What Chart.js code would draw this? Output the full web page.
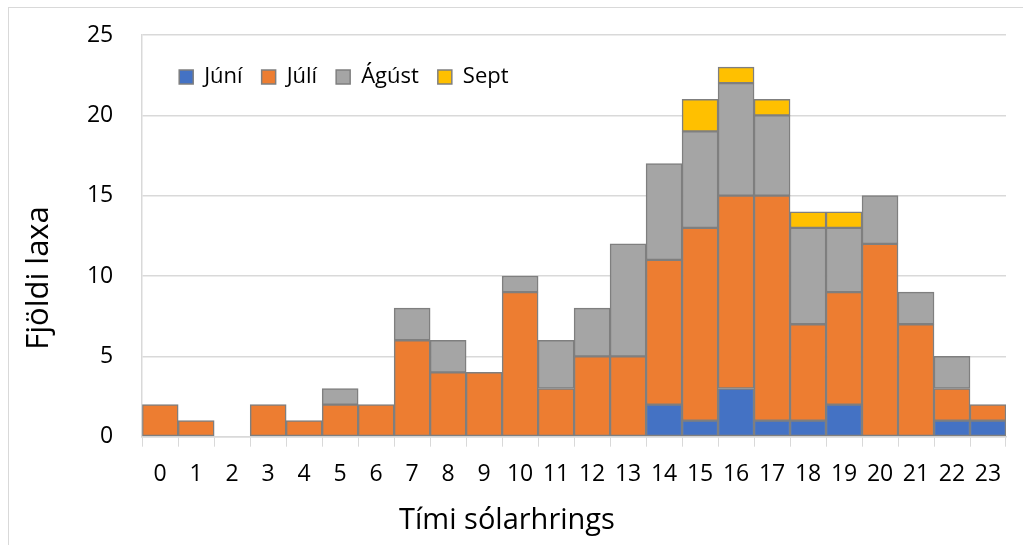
<!DOCTYPE html>
<html>
<head>
<meta charset="utf-8">
<script src="https://cdn.jsdelivr.net/npm/chart.js@4.4.1/dist/chart.umd.min.js"></script>
<style>
    html, body { margin: 0; padding: 0; background: #fff; }
    #wrap { width: 1023px; height: 545px; position: relative; }
</style>
</head>
<body>
<div id="wrap"><canvas id="chart" width="1023" height="545"></canvas></div>
<script>
// --- DATA ---
const hours = ['0', '1', '2', '3', '4', '5', '6', '7', '8', '9', '10', '11',
    '12', '13', '14', '15', '16', '17', '18', '19', '20', '21', '22', '23'];
const juni  = [0, 0, 0, 0, 0, 0, 0, 0, 0, 0, 0, 0, 0, 0, 2, 1, 3, 1, 1, 2, 0, 0, 1, 1];
const juli  = [2, 1, 0, 2, 1, 2, 2, 6, 4, 4, 9, 3, 5, 5, 9, 12, 12, 14, 6, 7, 12, 7, 2, 1];
const agust = [0, 0, 0, 0, 0, 1, 0, 2, 2, 0, 1, 3, 3, 7, 6, 6, 7, 5, 6, 4, 3, 2, 2, 0];
const sept  = [0, 0, 0, 0, 0, 0, 0, 0, 0, 0, 0, 0, 0, 0, 0, 2, 1, 1, 1, 1, 0, 0, 0, 0];
const yTicks = [0, 5, 10, 15, 20, 25];

const FONT = '"Open Sans", Lato, sans-serif';
const GRID = '#D9D9D9';
const EDGE = '#7F7F7F';

const series = [
    { label: 'Júní', data: juni, color: '#4472C4' },
    { label: 'Júlí', data: juli, color: '#ED7D31' },
    { label: 'Ágúst', data: agust, color: '#A5A5A5' },
    { label: 'Sept', data: sept, color: '#FFC000' }
];

// outer frame of the chart object
const framePlugin = {
    id: 'frame',
    beforeDraw: (chart) => {
        const ctx = chart.ctx;
        ctx.save();
        ctx.strokeStyle = GRID;
        ctx.lineWidth = 1;
        ctx.strokeRect(8.5, 7.5, 2000, 2000);
        ctx.restore();
    }
};

// legend sits inside the plot area as one row (one item per column)
const legendInside = {
    id: 'legendInside',
    afterLayout: (chart) => {
        const lg = chart.legend;
        if (!lg) return;
        const ca = chart.chartArea;
        lg.update(ca.right - ca.left, 50, { left: 0, top: 0, right: 0, bottom: 0 });
        lg.left = ca.left + 18;
        lg.top = ca.top + 12;
        lg.right = lg.left + lg.width;
        lg.bottom = lg.top + lg.height;
    }
};

new Chart(document.getElementById('chart'), {
    type: 'bar',
    data: {
        labels: hours,
        datasets: series.map(s => ({
            label: s.label,
            data: s.data,
            backgroundColor: s.color,
            borderColor: EDGE,
            borderWidth: 1.5,
            borderSkipped: false,
            barPercentage: 1,
            categoryPercentage: 1
        }))
    },
    options: {
        responsive: false,
        animation: false,
        layout: { padding: { top: 11, bottom: 0, left: 8, right: 17 } },
        plugins: {
            legend: {
                position: 'chartArea',
                align: 'start',
                labels: {
                    boxWidth: 14,
                    boxHeight: 14,
                    padding: 19,
                    color: '#000',
                    font: { family: FONT, size: 22 }
                }
            },
            title: {
                display: true,
                position: 'left',
                text: 'Fjöldi laxa',
                color: '#000',
                font: { family: FONT, size: 31, weight: 'normal' },
                padding: { top: 13, bottom: 0 }
            },
            subtitle: {
                display: true,
                position: 'bottom',
                text: 'Tími sólarhrings',
                color: '#000',
                font: { family: FONT, size: 29, weight: 'normal' },
                padding: { top: 0, bottom: 7 }
            },
            tooltip: { enabled: false }
        },
        scales: {
            x: {
                stacked: true,
                offset: true,
                grid: {
                    offset: true,
                    drawOnChartArea: false,
                    drawTicks: true,
                    tickLength: 10,
                    color: GRID
                },
                border: { color: GRID, width: 1.5 },
                ticks: {
                    color: '#000',
                    padding: 14,
                    maxRotation: 0,
                    autoSkip: false,
                    font: { family: FONT, size: 23 }
                },
                afterFit: (s) => { s.height = 66.5; }
            },
            y: {
                stacked: true,
                min: 0,
                max: 25,
                afterBuildTicks: (s) => { s.ticks = yTicks.map(v => ({ value: v })); },
                grid: { color: GRID, lineWidth: 1.5, drawTicks: false },
                border: { color: GRID, width: 1.5 },
                ticks: {
                    color: '#000',
                    padding: 29,
                    font: { family: FONT, size: 23 }
                },
                afterFit: (s) => { s.width = 84; s.paddingTop = 35; }
            }
        }
    },
    plugins: [framePlugin, legendInside]
});
</script>
</body>
</html>
